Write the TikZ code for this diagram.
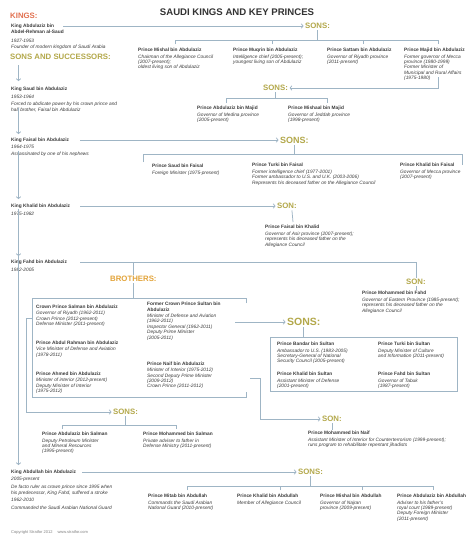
\documentclass[tikz,border=0pt]{standalone}
\usepackage{fontspec}
\setmainfont{Liberation Sans}
\usetikzlibrary{arrows.meta}
\definecolor{ln}{HTML}{9FB5C5}
\definecolor{kingc}{HTML}{E2704F}
\definecolor{sonc}{HTML}{B3A84A}
\definecolor{broc}{HTML}{E3A43A}
\definecolor{txtc}{HTML}{3A3A3A}
\definecolor{ttlc}{HTML}{333333}
\newcommand{\nm}[1]{\textbf{\upshape #1}}
\begin{document}
\begin{tikzpicture}[x=1pt,y=-1pt,
  lbl/.style={anchor=west, inner sep=1.5pt, font=\fontsize{7.8}{9}\selectfont\bfseries, text=sonc},
  biglbl/.style={lbl, font=\fontsize{9}{10}\selectfont\bfseries},
  txt/.style={anchor=north west, inner sep=0pt, align=left, font=\fontsize{4.8}{5.4}\selectfont\itshape, text=txtc},
  king/.style={txt, font=\fontsize{4.8}{6}\selectfont\itshape},
  con/.style={draw=ln, line width=0.75pt},
  arr/.style={con, -{Straight Barb[length=1.8pt,width=4.5pt]}},
]
\useasboundingbox (0,0) rectangle (474,536);
\fill[white] (0,0) rectangle (474,536);

% title and headings
\node[inner sep=0pt, font=\fontsize{9.6}{11}\selectfont\bfseries, text=ttlc] (ttl) at (237,12) {SAUDI KINGS AND KEY PRINCES};
\node[lbl, text=kingc] (lk) at (8.5,16) {KINGS:};
\node[lbl] (lss) at (8.5,57) {SONS AND SUCCESSORS:};

% kings
\node[king] (kA) at (11,24) {\nm{King Abdulaziz bin}\\\nm{Abdel-Rehman al-Saud}\\[3pt]1927-1953\\Founder of modern kingdom of Saudi Arabia};
\node[king] (kS) at (11,87) {\nm{King Saud bin Abdulaziz}\\[1.5pt]1953-1964\\[1.5pt]Forced to abdicate power by his crown prince and\\half brother, Faisal bin Abdulaziz};
\node[king] (kF) at (11,138) {\nm{King Faisal bin Abdulaziz}\\[1pt]1964-1975\\[1pt]Assassinated by one of his nephews};
\node[king] (kK) at (11,204) {\nm{King Khalid bin Abdulaziz}\\[1.5pt]1975-1982};
\node[king] (kH) at (11,260) {\nm{King Fahd bin Abdulaziz}\\[2pt]1982-2005};
\node[king] (kD) at (11,470) {\nm{King Abdullah bin Abdulaziz}\\[1pt]2005-present\\[2pt]De facto ruler as crown prince since 1995 when\\his predecessor, King Fahd, suffered a stroke\\[0.5pt]1962-2010\\[2pt]Commanded the Saudi Arabian National Guard};

% king chain
\draw[arr] ([shift={(10,4)}]lss.south west) -- ([shift={(7.5,-6)}]kS.north west);
\draw[arr] ([shift={(7.5,-4)}]kS.south west) -- ([shift={(7.5,-4)}]kF.north west);
\draw[arr] ([shift={(7.5,-6)}]kF.south west) -- ([shift={(7.5,-5)}]kK.north west);
\draw[arr] ([shift={(7.5,-6)}]kK.south west) -- ([shift={(7.5,-4)}]kH.north west);
\draw[arr] ([shift={(7.5,-19)}]kH.south west) -- ([shift={(7.5,-5)}]kD.north west);

% sons of Abdulaziz
\node[lbl] (sA) at (303.5,26) {SONS:};
\draw[arr] ([shift={(52,2)}]kA.north west) -- (sA.west);
\node[txt] (pMishal) at (138,48) {\nm{Prince Mishal bin Abdulaziz}\\[1pt]Chairman of the Allegiance Council\\(2007-present);\\oldest living son of Abdulaziz};
\node[txt] (pMuqrin) at (233,48) {\nm{Prince Muqrin bin Abdulaziz}\\[1pt]Intelligence chief (2005-present);\\youngest living son of Abdulaziz};
\node[txt] (pSattam) at (327,48) {\nm{Prince Sattam bin Abdulaziz}\\[1pt]Governor of Riyadh province\\(2011-present)};
\node[txt] (pMajid) at (404,48) {\nm{Prince Majid bin Abdulaziz}\\[1pt]Former governor of Mecca\\province (1980-1999)\\Former Minister of\\Municipal and Rural Affairs\\(1975-1980)};
\draw[con] (sA.south) -- (sA.south |- 0,40);
\draw[con] ([shift={(37,-4)}]pMishal.north west) -- ++(0,-4) -| ([shift={(34,-4)}]pMajid.north west);
\draw[con] ([shift={(39,-4)}]pMuqrin.north west) -- ++(0,-4);
\draw[con] ([shift={(36,-4)}]pSattam.north west) -- ++(0,-4);

% sons of Majid
\node[lbl] (sM) at (261.5,88) {SONS:};
\draw[arr] ([shift={(34,29)}]pMajid.north west) |- (sM.east);
\node[txt] (pAM) at (197,106) {\nm{Prince Abdulaziz bin Majid}\\[1pt]Governor of Medina province\\(2005-present)};
\node[txt] (pMM) at (288,106) {\nm{Prince Mishaal bin Majid}\\[1pt]Governor of Jeddah province\\(1998-present)};
\draw[con] (sM.south) -- (sM.south |- 0,98);
\draw[con] ([shift={(29,-3)}]pAM.north west) -- ++(0,-5) -| ([shift={(39,-3)}]pMM.north west);

% sons of Faisal
\node[biglbl] (sF) at (278.5,140) {SONS:};
\draw[arr] ([shift={(69,2)}]kF.north west) -- (sF.west);
\node[txt] (pSF) at (152,164) {\nm{Prince Saud bin Faisal}\\[1pt]Foreign Minister (1975-present)};
\node[txt] (pTF) at (252,163) {\nm{Prince Turki bin Faisal}\\[1.5pt]Former intelligence chief (1977-2001)\\Former ambassador to U.S. and U.K. (2003-2006)\\Represents his deceased father on the Allegiance Council};
\node[txt] (pKF) at (400,163) {\nm{Prince Khalid bin Faisal}\\[1pt]Governor of Mecca province\\(2007-present)};
\draw[con] (sF.south) -- (sF.south |- 0,154);
\draw[con] ([shift={(-9,-2)}]pSF.north west) -- ++(0,-8) -| ([shift={(62,2)}]pKF.north west);

% son of Khalid
\node[lbl] (sK) at (275.5,206) {SON:};
\draw[arr] ([shift={(69,2)}]kK.north west) -- (sK.west);
\node[txt] (pFK) at (265,225) {\nm{Prince Faisal bin Khalid}\\[1.5pt]Governor of Asir province (2007-present);\\represents his deceased father on the\\Allegiance Council};
\draw[con] ([xshift=5pt]sK.south) -- ([shift={(28,-3)}]pFK.north west);

% Fahd: son and brothers
\node[lbl] (sH) at (404.5,282) {SON:};
\coordinate (hS) at ([shift={(69,2)}]kH.north west);
\draw[con] (hS) -| (sH.north);
\node[txt] (pMF) at (362,291) {\nm{Prince Mohammed bin Fahd}\\[1.5pt]Governor of Eastern Province (1985-present);\\represents his deceased father on the\\Allegiance Council};
\draw[con] (sH.south) -- ([yshift=1.5pt]sH.south |- pMF.north);

\node[lbl, text=broc] (lB) at (108.5,279) {BROTHERS:};
\draw[con] (lB.north |- hS) -- (lB.north);
\draw[con] (lB.south) -- (lB.south |- 0,298);
\draw[con] (246,303) -- (246,298) -- (32,298) -- (32,397) -- (246,397) -- (246,392);

\node[txt] (pSal) at (36,305) {\nm{Crown Prince Salman bin Abdulaziz}\\[0.6pt]Governor of Riyadh (1962-2011)\\Crown Prince (2012-present)\\Defense Minister (2011-present)};
\node[txt] (pAR) at (36,341) {\nm{Prince Abdul Rahman bin Abdulaziz}\\[0.6pt]Vice Minister of Defense and Aviation\\(1978-2011)};
\node[txt] (pAh) at (36,372) {\nm{Prince Ahmed bin Abdulaziz}\\[0.6pt]Minister of interior (2012-present)\\Deputy Minister of Interior\\(1975-2012)};
\node[txt] (pSul) at (147,302) {\nm{Former Crown Prince Sultan bin}\\\nm{Abdulaziz}\\[1pt]Minister of Defense and Aviation\\(1962-2011)\\Inspector General (1962-2011)\\Deputy Prime Minister\\(2005-2011)};
\node[txt] (pNaif) at (147,362) {\nm{Prince Naif bin Abdulaziz}\\[0.6pt]Minister of Interior (1975-2012)\\Second Deputy Prime Minister\\(2009-2012)\\Crown Prince (2011-2012)};

% sons of Sultan
\node[lbl, font=\fontsize{10.5}{12}\selectfont\bfseries] (sSu) at (285.5,322) {SONS:};
\draw[arr] ([shift={(88,20)}]pSul.north west) -- (sSu.west);
\node[draw=ln, line width=0.75pt, anchor=north west, minimum width=187pt, minimum height=54pt, inner sep=0pt] (box) at (270,337) {};
\draw[con] (sSu.south) -- (box.north -| sSu.south);
\node[txt] (pBan) at (277,342) {\nm{Prince Bandar bin Sultan}\\[1pt]Ambassador to U.S. (1983-2005)\\Secretary-General of National\\Security Council (2005-present)};
\node[txt] (pKS) at (277,372) {\nm{Prince Khalid bin Sultan}\\[1pt]Assistant Minister of Defense\\(2001-present)};
\node[txt] (pTS) at (378,342) {\nm{Prince Turki bin Sultan}\\[1pt]Deputy Minister of Culture\\and Information (2011-present)};
\node[txt] (pFS) at (378,372) {\nm{Prince Fahd bin Sultan}\\[1pt]Governor of Tabuk\\(1987-present)};

% sons of Salman
\node[lbl] (sS) at (111.5,412) {SONS:};
\draw[arr] ([shift={(-4,13)}]pSal.north west) -- ++(-6,0) |- (sS.west);
\node[txt] (pAS) at (42,432) {\nm{Prince Abdulaziz bin Salman}\\[1pt]Deputy Petroleum Minister\\and Mineral Resources\\(1995-present)};
\node[txt] (pMS) at (143,432) {\nm{Prince Mohammed bin Salman}\\[1pt]Private adviser to father in\\Defense Ministry (2011-present)};
\draw[con] (sS.south) -- (sS.south |- 0,425);
\draw[con] ([shift={(20,-3)}]pAS.north west) -- ++(0,-4) -| ([shift={(33,-3)}]pMS.north west);

% son of Naif
\node[lbl] (sN) at (320.5,419) {SON:};
\draw[arr] ([shift={(103,16)}]pNaif.north west) -- ++(10,0) |- (sN.west);
\node[txt] (pMN) at (308,431) {\nm{Prince Mohammed bin Naif}\\[1.5pt]Assistant Minister of Interior for Counterterrorism (1999-present);\\runs program to rehabilitate repentant jihadists};
\draw[con] (sN.south) -- ([yshift=1.5pt]sN.south |- pMN.north);

% sons of Abdullah
\node[lbl] (sD) at (296.5,472) {SONS:};
\draw[arr] ([shift={(71,2)}]kD.north west) -- (sD.west);
\node[txt] (pMit) at (148,494) {\nm{Prince Mitab bin Abdullah}\\[1pt]Commands the Saudi Arabian\\National Guard (2010-present)};
\node[txt] (pKA) at (237,494) {\nm{Prince Khalid bin Abdullah}\\[1pt]Member of Allegiance Council};
\node[txt] (pMA) at (320,494) {\nm{Prince Mishal bin Abdullah}\\[1pt]Governor of Najran\\province (2009-present)};
\node[txt] (pAA) at (397,494) {\nm{Prince Abdulaziz bin Abdullah}\\[1pt]Adviser to his father's\\royal court (1989-present)\\Deputy Foreign Minister\\(2011-present)};
\draw[con] (sD.south) -- (sD.south |- 0,486);
\draw[con] ([shift={(39,-4)}]pMit.north west) -- ++(0,-4) -| ([shift={(36,-4)}]pAA.north west);
\draw[con] ([shift={(43,-4)}]pKA.north west) -- ++(0,-4);
\draw[con] ([shift={(42,-4)}]pMA.north west) -- ++(0,-4);

% footer
\node[anchor=west, inner sep=0pt, font=\fontsize{4}{5}\selectfont, text=gray] (cp) at (11,532) {Copyright Stratfor 2012\hspace{5pt}www.stratfor.com};
\end{tikzpicture}
\end{document}
